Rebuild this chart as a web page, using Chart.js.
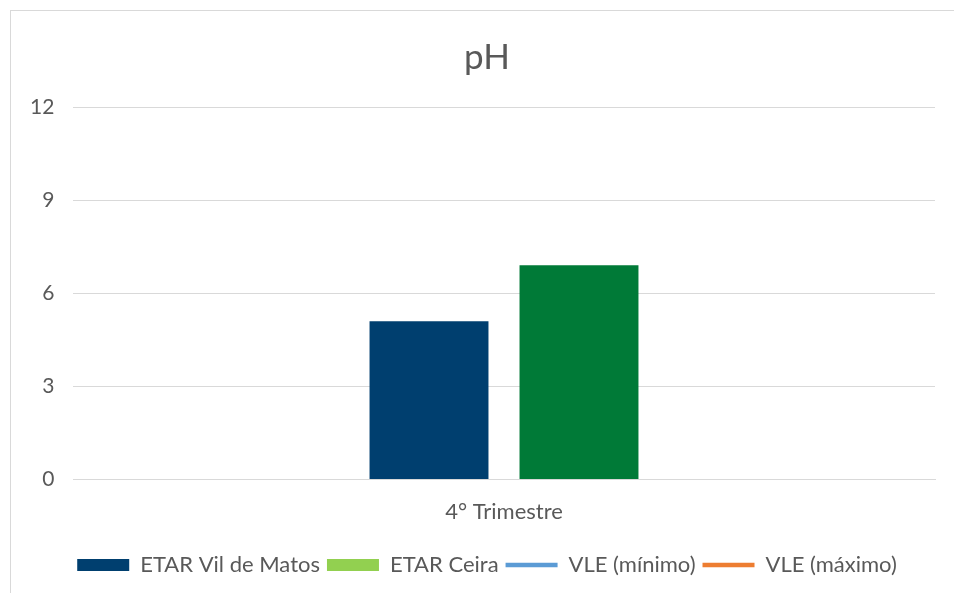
<!DOCTYPE html>
<html>
<head>
<meta charset="utf-8">
<script src="https://cdn.jsdelivr.net/npm/chart.js@4"></script>
<style>
  html, body { margin: 0; padding: 0; background: #fff; overflow: hidden; }
  #frame { position: absolute; left: 10px; top: 10px; width: 1000px; height: 700px; border: 1px solid #d9d9d9; }
  #wrap { position: absolute; left: 0; top: 0; width: 954px; height: 593px; }
</style>
</head>
<body>
<div id="frame"></div>
<div id="wrap"><canvas id="grafico"></canvas></div>
<script>
// Datos del gráfico
const categorias = ['4° Trimestre'];
const vilDeMatos = [5.1];
const ceira = [6.9];
const vleMinimo = [null];
const vleMaximo = [null];
const ticksY = [0, 3, 6, 9, 12];

const fuente = 'Lato, "Open Sans", sans-serif';
const gris = '#595959';

const ctx = document.getElementById('grafico').getContext('2d');

new Chart(ctx, {
    type: 'bar',
    data: {
        labels: categorias,
        datasets: [
            { label: 'ETAR Vil de Matos', data: vilDeMatos, backgroundColor: '#003f6f', borderWidth: 0,
              barPercentage: 0.793, categoryPercentage: 0.348, pointStyle: 'rect' },
            { label: 'ETAR Ceira', data: ceira, backgroundColor: '#007a37', borderWidth: 0,
              barPercentage: 0.793, categoryPercentage: 0.348, pointStyle: 'rect' },
            { type: 'line', label: 'VLE (mínimo)', data: vleMinimo, borderColor: '#5b9bd5', backgroundColor: '#5b9bd5',
              borderWidth: 4.5, borderCapStyle: 'round', pointRadius: 0, pointStyle: 'line' },
            { type: 'line', label: 'VLE (máximo)', data: vleMaximo, borderColor: '#ed7d31', backgroundColor: '#ed7d31',
              borderWidth: 4.5, borderCapStyle: 'round', pointRadius: 0, pointStyle: 'line' }
        ]
    },
    options: {
        responsive: true,
        maintainAspectRatio: false,
        animation: false,
        // el título y la leyenda se centran en el marco (que sale de la ventana)
        layout: { padding: { left: 39, right: 19, top: 0, bottom: 7 } },
        plugins: {
            title: {
                display: true,
                text: 'pH',
                color: gris,
                font: { family: fuente, size: 35, weight: 'normal' },
                padding: { top: 37, bottom: 28 }
            },
            legend: {
                position: 'bottom',
                labels: {
                    color: gris,
                    font: { family: fuente, size: 22 },
                    usePointStyle: true,
                    pointStyleWidth: 52,
                    boxHeight: 12,
                    padding: 7,
                    generateLabels: (chart) => {
                        const items = Chart.defaults.plugins.legend.labels.generateLabels(chart);
                        // En la leyenda el verde es más claro que la barra
                        items[1].fillStyle = '#92d050';
                        items[1].strokeStyle = '#92d050';
                        return items;
                    }
                }
            },
            tooltip: { enabled: false }
        },
        scales: {
            x: {
                afterFit: (s) => { s.height = s.height + 3; },
                grid: { display: false, drawTicks: false },
                border: { color: '#d9d9d9' },
                ticks: { color: gris, font: { family: fuente, size: 22 }, padding: 19 }
            },
            y: {
                min: 0,
                max: 12,
                afterBuildTicks: (s) => { s.ticks = ticksY.map(v => ({ value: v })); },
                afterFit: (s) => { s.width = 34; },
                grid: { color: '#d9d9d9', drawTicks: false },
                border: { display: false },
                // mirror + padding negativo: etiquetas alineadas a la derecha fuera del área recortada
                ticks: { color: gris, font: { family: fuente, size: 21 }, mirror: true, crossAlign: 'far', padding: -43 }
            }
        }
    }
});
</script>
</body>
</html>
